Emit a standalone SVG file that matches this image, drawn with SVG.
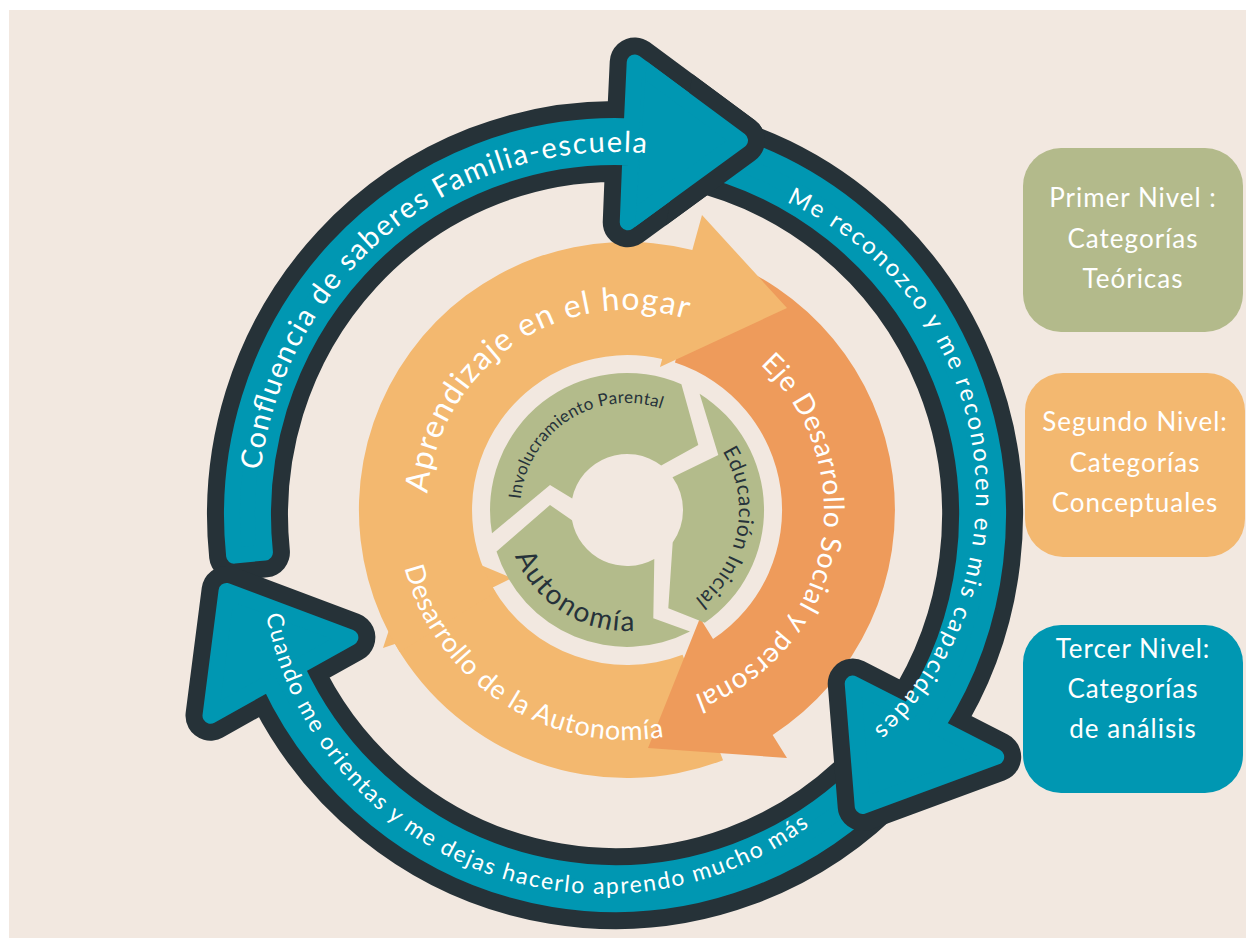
<svg xmlns="http://www.w3.org/2000/svg" width="1246" height="938" viewBox="0 0 1246 938">
<style>
.rd{fill:none;stroke:#263238;stroke-width:50;stroke-linejoin:round}
.rt{fill:#0097B2;stroke:#0097B2;stroke-width:16;stroke-linejoin:round}
.lo{fill:#F3B86F}
.do{fill:#EE9B5B}
.gr{fill:#B3BB8B}
.wt{fill:#ffffff;font-family:Lato,"Noto Sans",sans-serif}
.dk{fill:#26323A;font-family:Lato,"Noto Sans",sans-serif}
.box text{font-size:26px;letter-spacing:1px;text-anchor:middle;fill:#ffffff;font-family:Lato,"Noto Sans",sans-serif}
</style>
<defs>
<path id="a1" d="M 234.10 555.66 A 383 389 0 0 1 631.71 126.37 L 634.72 62.43 L 740.02 140.36 L 627.74 222.28 L 630.35 157.34 A 352 358 0 0 0 264.93 552.42 Z"/>
<path id="a2" d="M 694.63 134.50 A 383 389 0 0 1 936.52 726.37 L 996.21 756.86 L 862.7 806.1 L 852.72 683.56 L 908.83 712.22 A 352 358 0 0 0 688.19 164.82 Z"/>
<path id="a3" d="M 890.51 785.22 A 383 389 0 0 1 269.38 682.72 L 210.49 715.68 L 226.54 590.92 L 350.36 637.40 L 296.51 667.54 A 352 358 0 0 0 868.21 763.69 Z"/>
<clipPath id="clipT"><path d="M615 514 L656.86 -84.54 L1134.6 214 Z"/></clipPath>
<clipPath id="clipD"><path d="M615 514 L719.19 -76.89 L1134.6 214 Z"/></clipPath>
<path id="tp1" d="M 262.20 570.54 A 357 363 0 0 1 744.10 176.57"/>
<path id="tp2" d="M 686.32 175.53 A 321 321 0 0 1 787.64 787.31"/>
<path id="tp3" d="M 266.61 482.89 A 344 344 0 0 0 898.09 728.46"/>
<path id="tpA" d="M 444.29 591.35 A 200 200 0 0 1 770.87 371.07"/>
<path id="tpB" d="M 698.40 326.39 A 197 197 0 0 1 622.70 706.95"/>
<path id="tpC" d="M 415.44 419.76 A 230 230 0 0 0 794.98 667.10"/>
<path id="tpG1" d="M 528.29 551.29 A 107 107 0 0 1 705.64 437.44"/>
<path id="tpG2" d="M 666.22 405.09 A 112 112 0 0 1 626.02 622.00"/>
<path id="tpG3" d="M 514.81 464.67 A 121 121 0 0 0 716.92 590.96"/>
</defs>

<g id="background"><rect x="9" y="10" width="1237" height="928" fill="#F2E8E0"/></g>

<g id="inner-cycle">
 <g id="desarrollo-autonomia">
  <path class="lo" d="M 723.04 760.20 A 268 268 0 0 1 394.91 644.00 L 383 648 L 419.04 539.23 L 512 578 L 492.77 587.50 A 155 155 0 0 0 682.55 654.70 Z"/>
 </g>
 <g id="eje-desarrollo">
  <path class="do" d="M 709.82 255.12 A 268 268 0 0 1 772.65 734.90 L 787 758 L 648 748 L 700 618 L 713.05 639.00 A 155 155 0 0 0 674.90 362.59 Z"/>
 </g>
 <g id="aprendizaje-hogar">
  <path class="lo" d="M 399.72 652.02 A 268 268 0 0 1 692.34 249.96 L 702 215 L 787 308 L 660 367 L 662.18 359.10 A 155 155 0 0 0 495.55 592.14 Z"/>
 </g>
 <g id="inner-labels">
  <text class="wt" font-size="32"><textPath href="#tpA" startOffset="50%" text-anchor="middle" textLength="358" lengthAdjust="spacing">Aprendizaje en el hogar</textPath></text>
  <text class="wt" font-size="28"><textPath href="#tpB" startOffset="50%" text-anchor="middle" textLength="404" lengthAdjust="spacing">Eje Desarrollo Social y personal</textPath></text>
  <text class="wt" font-size="27"><textPath href="#tpC" startOffset="50%" text-anchor="middle" textLength="340" lengthAdjust="spacing">Desarrollo de la Autonomía</textPath></text>
 </g>
</g>

<g id="hub">
 <g id="involucramiento">
  <path class="gr" d="M 492.0 533.3 A 137 137 0 0 1 681.4 384.3 L 698.3 445 L 661.2 465.6 A 56 56 0 0 0 572.2 498.4 L 550 485 Z"/>
  <text class="dk" font-size="17"><textPath href="#tpG1" startOffset="50%" text-anchor="middle" textLength="192" lengthAdjust="spacing">Involucramiento Parental</textPath></text>
 </g>
 <g id="educacion">
  <path class="gr" d="M 699.6 393.8 A 137 137 0 0 1 704.8 622.8 L 668.3 608.3 L 672.7 542.4 A 56 56 0 0 0 672.5 477.3 L 718.3 455 Z"/>
  <text class="dk" font-size="21"><textPath href="#tpG2" startOffset="50%" text-anchor="middle" textLength="165" lengthAdjust="spacing">Educación Inicial</textPath></text>
 </g>
 <g id="autonomia">
  <path class="gr" d="M 690.0 631.6 A 137 137 0 0 1 496.5 551.6 L 550 505 L 572.0 520.3 A 56 56 0 0 0 654.3 558.9 L 653.3 618.3 Z"/>
  <text class="dk" font-size="28"><textPath href="#tpG3" startOffset="50%" text-anchor="middle" textLength="150" lengthAdjust="spacing">Autonomía</textPath></text>
 </g>
</g>

<g id="connectors">
 <g id="arrow-confluencia"><use href="#a1" class="rd"/><use href="#a1" class="rt"/></g>
 <g id="arrow-cuando"><use href="#a3" class="rd"/><use href="#a3" class="rt"/></g>
 <g id="arrow-reconozco"><use href="#a2" class="rd"/><use href="#a2" class="rt"/></g>
 <g id="arrow-confluencia-head">
  <g clip-path="url(#clipD)"><use href="#a1" class="rd"/></g>
  <g clip-path="url(#clipT)"><use href="#a1" class="rt"/></g>
 </g>
 <g id="ring-labels">
  <text class="wt" font-size="29"><textPath href="#tp1" startOffset="50%" text-anchor="middle" textLength="552" lengthAdjust="spacing">Confluencia de saberes Familia-escuela</textPath></text>
  <text class="wt" font-size="24"><textPath href="#tp2" startOffset="50%" text-anchor="middle" textLength="632" lengthAdjust="spacing">Me reconozco y me reconocen en mis capacidades</textPath></text>
  <text class="wt" font-size="23"><textPath href="#tp3" startOffset="50%" text-anchor="middle" textLength="695" lengthAdjust="spacing">Cuando me orientas y me dejas hacerlo aprendo mucho más</textPath></text>
 </g>
</g>

<g id="legend" class="box">
 <g id="primer-nivel">
  <rect x="1023" y="148" width="220" height="184" rx="38" fill="#B3BA8B"/>
  <text x="1133" y="207">Primer Nivel :</text>
  <text x="1133" y="248">Categorías</text>
  <text x="1133" y="288">Teóricas</text>
 </g>
 <g id="segundo-nivel">
  <rect x="1025" y="373" width="220" height="184" rx="38" fill="#F3B870"/>
  <text x="1135" y="431">Segundo Nivel:</text>
  <text x="1135" y="472">Categorías</text>
  <text x="1135" y="512">Conceptuales</text>
 </g>
 <g id="tercer-nivel">
  <rect x="1023" y="625" width="220" height="168" rx="38" fill="#0097B2"/>
  <text x="1133" y="658">Tercer Nivel:</text>
  <text x="1133" y="698">Categorías</text>
  <text x="1133" y="738">de análisis</text>
 </g>
</g>
</svg>
